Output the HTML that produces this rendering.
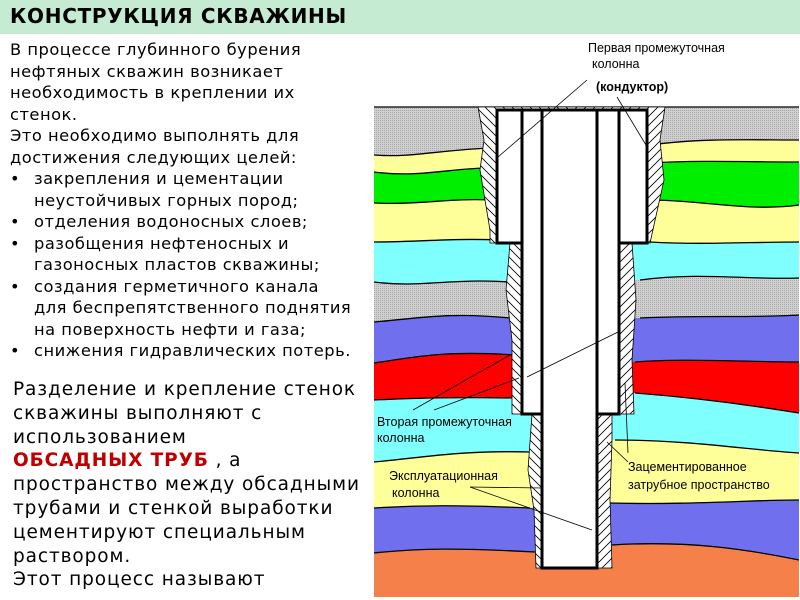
<!DOCTYPE html>
<html><head><meta charset="utf-8">
<style>
body{margin:0;width:800px;height:600px;overflow:hidden;background:#fff;font-family:"DejaVu Sans","Liberation Sans",sans-serif;position:relative}
.hdr{position:absolute;left:0;top:0;width:800px;height:34px;background:#c6ebd3}
.hdr span{position:absolute;left:10px;top:4px;font-weight:bold;font-size:20px;letter-spacing:0.7px;color:#000}
.t1{position:absolute;left:10px;top:39px;font-size:16.3px;line-height:21.5px;letter-spacing:0.5px;color:#000;width:365px;white-space:nowrap}
.t1 .b{position:relative;padding-left:24px}
.t1 .b:before{content:"•";position:absolute;left:0}
.t2{position:absolute;left:13px;top:378px;font-size:18.5px;line-height:23.8px;letter-spacing:0.9px;color:#000;width:370px;white-space:nowrap}
.red{color:#c00000;font-weight:bold}
svg{position:absolute;left:0;top:0}
</style></head><body>
<div class="hdr"><span>КОНСТРУКЦИЯ СКВАЖИНЫ</span></div>
<div class="t1">В процессе глубинного бурения<br>нефтяных скважин возникает<br>необходимость в креплении их<br>стенок.<br>Это необходимо выполнять для<br>достижения следующих целей:
<div class="b">закрепления и цементации<br>неустойчивых горных пород;</div>
<div class="b">отделения водоносных слоев;</div>
<div class="b">разобщения нефтеносных и<br>газоносных пластов скважины;</div>
<div class="b">создания герметичного канала<br>для беспрепятственного поднятия<br>на поверхность нефти и газа;</div>
<div class="b">снижения гидравлических потерь.</div>
</div>
<div class="t2">Разделение и крепление стенок<br>скважины выполняют с<br>использованием<br><span class="red">ОБСАДНЫХ ТРУБ</span> , а<br>пространство между обсадными<br>трубами и стенкой выработки<br>цементируют специальным<br>раствором.<br>Этот процесс называют</div>
<svg width="800" height="600" viewBox="0 0 800 600">
<defs>
<pattern id="dots" width="2" height="2" patternUnits="userSpaceOnUse"><rect width="2" height="2" fill="#d0d0d0"/><rect width="1" height="1" fill="#a8a8a8"/></pattern>
<pattern id="hl" width="9" height="9" patternUnits="userSpaceOnUse"><rect width="9" height="9" fill="#fff"/><path d="M0,0 L9,9 M-1,8 L1,10 M8,-1 L10,1" stroke="#000" stroke-width="0.8"/></pattern>
<pattern id="hr" width="9" height="9" patternUnits="userSpaceOnUse"><rect width="9" height="9" fill="#fff"/><path d="M0,9 L9,0 M-1,1 L1,-1 M8,10 L10,8" stroke="#000" stroke-width="0.8"/></pattern>
<clipPath id="cl"><rect x="370" y="100" width="200" height="500"/></clipPath>
<clipPath id="cr"><rect x="570" y="100" width="230" height="500"/></clipPath>
</defs>
<g stroke="none">
<rect x="374" y="107" width="425" height="490" fill="url(#dots)"/>
<path d="M374,155 C410,158 440,150 490,148 L650,145 C700,138 750,140 799,140 L799,597 L374,597Z" fill="#ffff99"/>
<path d="M374,172 C420,178 450,168 490,168 L650,163 C700,160 750,162 799,162 L799,597 L374,597Z" fill="#00ee00"/>
<path d="M374,203 C420,205 450,198 490,200 L650,200 C700,200 750,212 799,205 L799,597 L374,597Z" fill="#ffff99"/>
<path d="M374,242 C420,242 450,238 500,240 L650,242 C700,245 750,242 799,242 L799,597 L374,597Z" fill="#80ffff"/>
<path d="M374,282 C420,288 450,278 510,282 L640,280 C700,272 750,280 799,278 L799,597 L374,597Z" fill="url(#dots)"/>
<path d="M374,322 C420,318 450,312 510,318 L640,318 C700,315 750,318 799,315 L799,597 L374,597Z" fill="#7070ee"/>
<path d="M374,363 C410,358 440,350 515,355 L635,362 C680,358 750,362 799,362 L799,597 L374,597Z" fill="#ff0000"/>
<path d="M374,400 C420,398 450,397 515,398 L635,393 C700,398 750,405 799,413 L799,597 L374,597Z" fill="#80ffff"/>
<path d="M374,462 C420,458 460,450 530,452 L615,440 C690,440 750,450 799,453 L799,597 L374,597Z" fill="#ffff99"/>
<path d="M374,508 C420,505 460,505 530,508 L610,503 C690,505 750,500 799,500 L799,597 L374,597Z" fill="#7070ee"/>
<path d="M374,553 C420,548 460,548 535,552 L612,545 C690,540 750,550 799,560 L799,597 L374,597Z" fill="#f5804a"/>
</g>
<g fill="none" stroke="#000" stroke-width="1.3">
<path d="M374,155 C410,158 440,150 490,148 M650,145 C700,138 750,140 799,140"/>
<path d="M374,172 C420,178 450,168 490,168 M650,163 C700,160 750,162 799,162"/>
<path d="M374,203 C420,205 450,198 490,200 M650,200 C700,200 750,212 799,205"/>
<path d="M374,242 C420,242 450,238 500,240 M650,242 C700,245 750,242 799,242"/>
<path d="M374,282 C420,288 450,278 510,282 M640,280 C700,272 750,280 799,278"/>
<path d="M374,322 C420,318 450,312 510,318 M640,318 C700,315 750,318 799,315"/>
<path d="M374,363 C410,358 440,350 515,355 M635,362 C680,358 750,362 799,362"/>
<path d="M374,400 C420,398 450,397 515,398 M635,393 C700,398 750,405 799,413"/>
<path d="M374,462 C420,458 460,450 530,452 M615,440 C690,440 750,450 799,453"/>
<path d="M374,508 C420,505 460,505 530,508 M610,503 C690,505 750,500 799,500"/>
<path d="M374,553 C420,548 460,548 535,552 M612,545 C690,540 750,550 799,560"/>
<line x1="374" y1="107" x2="799" y2="107"/>
</g>
<g stroke="#000" stroke-width="0.8">
<path d="M478,107 L484,140 L480,170 L490,230 L490,243 L510,243 L506,290 L512,340 L512,414 L532,414 L528,470 L534,510 L536,568 L612,568 L610,500 L612,440 L612,414 L634,414 L632,360 L636,300 L632,243 L650,243 L664,180 L660,140 L665,107Z" fill="url(#hl)" clip-path="url(#cl)"/>
<path d="M478,107 L484,140 L480,170 L490,230 L490,243 L510,243 L506,290 L512,340 L512,414 L532,414 L528,470 L534,510 L536,568 L612,568 L610,500 L612,440 L612,414 L634,414 L632,360 L636,300 L632,243 L650,243 L664,180 L660,140 L665,107Z" fill="url(#hr)" clip-path="url(#cr)"/>
</g>
<g fill="#fff" stroke="#000" stroke-width="3">
<rect x="497" y="110" width="150" height="133"/>
<rect x="522" y="110" width="97" height="304"/>
<rect x="542" y="110" width="55" height="458"/>
</g>
<g stroke="#000" stroke-width="0.8" fill="none">
<line x1="587" y1="80" x2="498" y2="157"/>
<line x1="617" y1="97" x2="646" y2="145"/>
<line x1="413" y1="410" x2="510" y2="355"/>
<line x1="434" y1="410" x2="519" y2="378"/>
<line x1="527" y1="377" x2="618" y2="332"/>
<line x1="470" y1="487" x2="542" y2="488"/>
<line x1="470" y1="487" x2="592" y2="530"/>
<line x1="628" y1="462" x2="607" y2="442"/>
<line x1="625" y1="383" x2="628" y2="453"/>
</g>
<g font-family="Liberation Sans, sans-serif" font-size="12.5" fill="#000">
<text x="588" y="52">Первая промежуточная</text>
<text x="592" y="68">колонна</text>
<text x="596" y="91" font-weight="bold">(кондуктор)</text>
<text x="377" y="426">Вторая промежуточная</text>
<text x="377" y="442">колонна</text>
<text x="389" y="480">Эксплуатационная</text>
<text x="392" y="497">колонна</text>
<text x="628" y="471">Зацементированное</text>
<text x="628" y="489">затрубное пространство</text>
</g>
</svg>
</body></html>
